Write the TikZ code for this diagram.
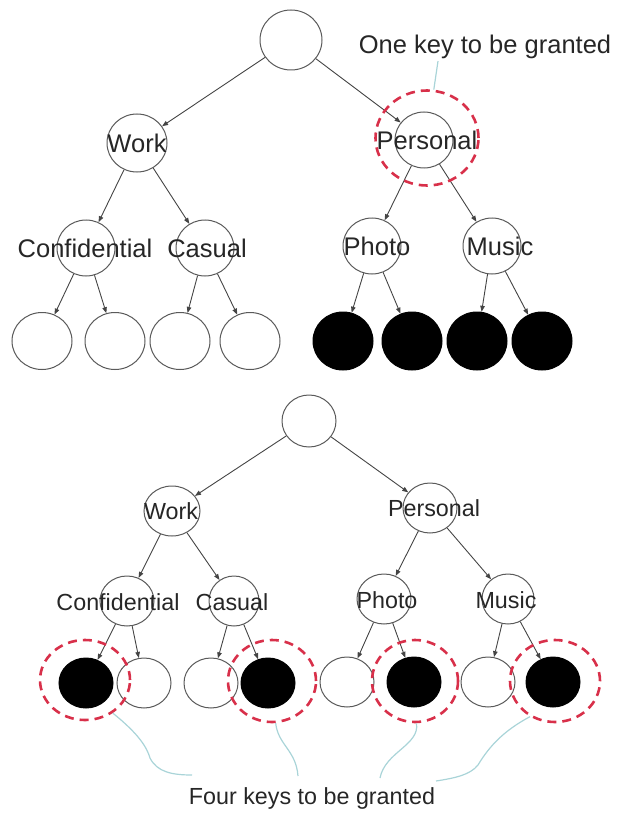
\documentclass[tikz,border=0pt]{standalone}
\usepackage{fontspec}
\setmainfont{Liberation Sans}
\usetikzlibrary{shapes.geometric,arrows.meta}
\definecolor{edgec}{HTML}{444444}
\definecolor{outl}{HTML}{5A5A5A}
\definecolor{txtc}{HTML}{262626}
\definecolor{keyred}{HTML}{D8304A}
\definecolor{calloutc}{HTML}{A9D4D8}
\begin{document}
\begin{tikzpicture}[x=1pt,y=-1pt,
  ell/.style={ellipse, draw=outl, line width=1pt, inner sep=0pt, fill=white},
  blk/.style={ell, fill=black, draw=black},
  sz/.style 2 args={minimum width=#1pt, minimum height=#2pt},
  big/.style={sz={58}{56}},
  small/.style={sz={54}{50}},
  lblA/.style={text=txtc, inner sep=0pt, font=\fontsize{25.5}{28}\selectfont},
  lblB/.style={text=txtc, inner sep=0pt, font=\fontsize{23.3}{26}\selectfont},
  arr/.style={draw=edgec, line width=0.9pt, -{Triangle[length=6pt,width=4.5pt]}},
  keyc/.style={ellipse, draw=keyred, line width=2.6pt, dash pattern=on 9pt off 6pt, inner sep=0pt},
  co/.style={draw=calloutc, line width=1.2pt}]
\useasboundingbox (0,0) rectangle (618,813);

% ---------- top tree ----------
\node[ell, sz={62}{60}] (r1) at (291,40) {};
\node[ell, sz={60}{58}] (w1) at (137,143) {};
\node[ell, big] (p1) at (424,140) {};
\node[ell, big] (c1) at (86,248) {};
\node[ell, big] (cs1) at (205,248) {};
\node[ell, big] (ph1) at (372,246) {};
\node[ell, big] (mu1) at (492,246) {};
\node[ell, sz={60}{57}] (a1) at (42,341) {};
\node[ell, sz={60}{57}] (a2) at (115,341) {};
\node[ell, sz={60}{57}] (a3) at (180,341) {};
\node[ell, sz={60}{57}] (a4) at (250,341) {};
\node[blk, sz={60}{58}] (a5) at (343,341) {};
\node[blk, sz={60}{58}] (a6) at (412,341) {};
\node[blk, sz={60}{58}] (a7) at (477,341) {};
\node[blk, sz={60}{58}] (a8) at (542,341) {};

\draw[arr] (r1) -- (w1);
\draw[arr] (r1) -- (p1);
\draw[arr] (w1) -- (c1);
\draw[arr] (w1) -- (cs1);
\draw[arr] (p1) -- (ph1);
\draw[arr] (p1) -- (mu1);
\draw[arr] (c1) -- (a1);
\draw[arr] (c1) -- (a2);
\draw[arr] (cs1) -- (a3);
\draw[arr] (cs1) -- (a4);
\draw[arr] (ph1) -- (a5);
\draw[arr] (ph1) -- (a6);
\draw[arr] (mu1) -- (a7);
\draw[arr] (mu1) -- (a8);

\node[lblA] (tw1) at (137,143) {Work};
\node[lblA] (tp1) at (427,140) {Personal};
\node[lblA] (tc1) at (85,248) {Confidential};
\node[lblA] (tcs1) at (207,248) {Casual};
\node[lblA] (tph1) at (377,246) {Photo};
\node[lblA] (tmu1) at (500,246) {Music};

\node[keyc, sz={103}{95}] (k0) at (427,138) {};
\node[lblA] (onekey) at (485,47) {One key to be granted};
\draw[co] ([xshift=-47pt,yshift=-2pt]onekey.south) -- (k0.82);

% ---------- bottom tree ----------
\node[ell, sz={54}{52}] (r2) at (309,421) {};
\node[ell, sz={56}{50}] (w2) at (172,511) {};
\node[ell, small] (p2) at (430,508) {};
\node[ell, small] (c2) at (127,601) {};
\node[ell, sz={50}{50}] (cs2) at (234,601) {};
\node[ell, small] (ph2) at (384,599) {};
\node[ell, sz={52}{50}] (mu2) at (508,599) {};
\node[blk, small] (b1) at (86,683) {};
\node[ell, small] (b2) at (144,683) {};
\node[ell, small] (b3) at (211,683) {};
\node[blk, small] (b4) at (268,683) {};
\node[ell, small] (b5) at (347,682) {};
\node[blk, small] (b6) at (414,682) {};
\node[ell, small] (b7) at (488,682) {};
\node[blk, small] (b8) at (553,682) {};

\draw[arr] (r2) -- (w2);
\draw[arr] (r2) -- (p2);
\draw[arr] (w2) -- (c2);
\draw[arr] (w2) -- (cs2);
\draw[arr] (p2) -- (ph2);
\draw[arr] (p2) -- (mu2);
\draw[arr] (c2) -- (b1);
\draw[arr] (c2) -- (b2);
\draw[arr] (cs2) -- (b3);
\draw[arr] (cs2) -- (b4);
\draw[arr] (ph2) -- (b5);
\draw[arr] (ph2) -- (b6);
\draw[arr] (mu2) -- (b7);
\draw[arr] (mu2) -- (b8);

\node[lblB] (tw2) at (171,511) {Work};
\node[lblB] (tp2) at (434,508) {Personal};
\node[lblB] (tc2) at (118,602) {Confidential};
\node[lblB] (tcs2) at (232,602) {Casual};
\node[lblB] (tph2) at (387,600) {Photo};
\node[lblB] (tmu2) at (506,600) {Music};

\node[keyc, sz={90}{80}] (k1) at (85,680) {};
\node[keyc, sz={88}{82}] (k2) at (272,681) {};
\node[keyc, sz={86}{82}] (k3) at (415,681) {};
\node[keyc, sz={90}{82}] (k4) at (555,681) {};

\node[lblB] (four) at (312,798) {Four keys to be granted};
\draw[co] (k1.-50) .. controls (140,735) and (147,748) .. (150,758)
          .. controls (157,772) and (172,775) .. (192,775);
\draw[co] (k2.-85) .. controls (278,745) and (296,750) .. (298,776);
\draw[co] (k3.-88) .. controls (420,745) and (385,752) .. (380,778);
\draw[co] (k4.-125) .. controls (505,730) and (490,745) .. (478,765)
          .. controls (470,775) and (455,778) .. (436,781);
\end{tikzpicture}
\end{document}
